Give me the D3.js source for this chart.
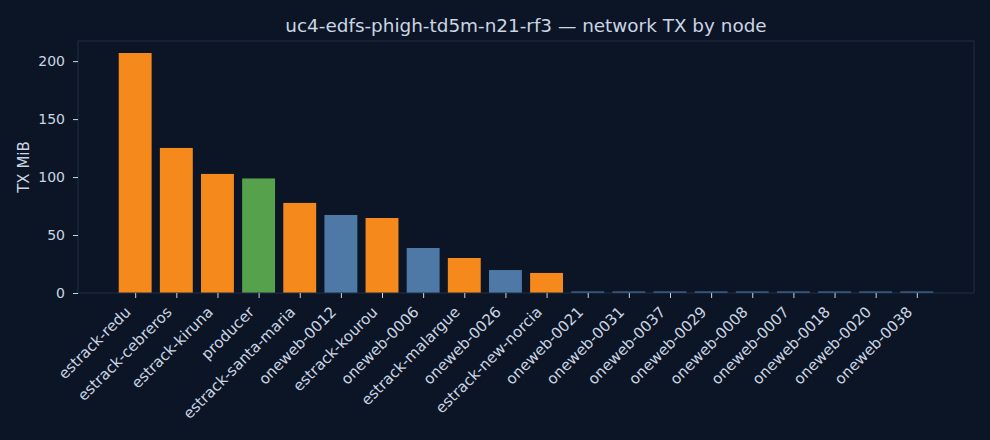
<!DOCTYPE html>
<html lang="en">
  <head>
    <meta charset="utf-8">
    <title>network TX by node</title>
    <script src="https://cdn.jsdelivr.net/npm/d3@7"></script>
    <style>
      html, body { margin: 0; padding: 0; background: #0b1526; }
      svg { display: block; }
    </style>
  </head>
  <body>
    <div id='main'></div>
  </body>

  <script type='text/javascript'>

      // node names, TX in MiB, and the node kind (drives the colour)
      const nodes = ['estrack-redu','estrack-cebreros','estrack-kiruna','producer','estrack-santa-maria',
        'oneweb-0012','estrack-kourou','oneweb-0006','estrack-malargue','oneweb-0026','estrack-new-norcia',
        'oneweb-0021','oneweb-0031','oneweb-0037','oneweb-0029','oneweb-0008','oneweb-0007',
        'oneweb-0018','oneweb-0020','oneweb-0038'];
      const txMiB = [207, 125.1, 102.7, 98.8, 77.7, 67.3, 64.7, 38.8, 30.2, 19.8, 17.3,
        1.3, 1.3, 1.3, 1.3, 1.3, 1.3, 1.3, 1.3, 1.3];
      const kinds = ['ground','ground','ground','producer','ground','sat','ground','sat','ground','sat','ground',
        'sat','sat','sat','sat','sat','sat','sat','sat','sat'];
      const yTicks = [0, 50, 100, 150, 200];

      const kindColour = { ground: '#f5891b', producer: '#55a14c', sat: '#4e79a7' };
      const textColour = '#cbd5e3';
      const frameColour = '#202e45';

      const W = 990, H = 440;
      const mLeft = 78, mRight = 974, mTop = 41, mBottom = 293;

      let svg = d3.select('#main').append('svg')
        .attr('width', W)
        .attr('height', H)
        .style('font-family', 'DejaVu Sans');

      svg.append('rect').attr('width', W).attr('height', H).attr('fill', '#0b1526');

      // matplotlib-like limits: 5% margin on both axes
      const n = nodes.length;
      const xMargin = (n - 1 + 0.8) * 0.05;
      const x = d3.scaleLinear()
        .domain([-0.4 - xMargin, n - 1 + 0.4 + xMargin])
        .range([mLeft, mRight]);
      const y = d3.scaleLinear()
        .domain([0, d3.max(txMiB) * 1.05])
        .range([mBottom, mTop]);

      // bars
      svg.selectAll('rect.bar')
        .data(txMiB)
        .enter()
        .append('rect')
        .attr('class', 'bar')
        .attr('x', (d, i) => x(i - 0.4))
        .attr('width', (d, i) => x(i + 0.4) - x(i - 0.4))
        .attr('y', d => y(d))
        .attr('height', d => y(0) - y(d))
        .attr('fill', (d, i) => kindColour[kinds[i]]);

      // frame
      svg.append('rect')
        .attr('x', mLeft).attr('y', mTop)
        .attr('width', mRight - mLeft).attr('height', mBottom - mTop)
        .attr('fill', 'none')
        .attr('stroke', frameColour)
        .attr('stroke-width', 1);

      // y axis
      const yAxis = svg.append('g')
        .attr('transform', `translate(${mLeft},0)`)
        .call(d3.axisLeft(y).tickValues(yTicks).tickSize(5).tickPadding(8));
      yAxis.select('.domain').remove();
      yAxis.selectAll('line').attr('stroke', textColour);
      yAxis.selectAll('text')
        .attr('fill', textColour)
        .style('font-size', '14px')
        .style('font-family', 'DejaVu Sans');

      // x axis with rotated labels
      const xAxis = svg.append('g')
        .attr('transform', `translate(0,${mBottom})`)
        .call(d3.axisBottom(x).tickValues(d3.range(n)).tickSize(5).tickFormat(i => nodes[i]));
      xAxis.select('.domain').remove();
      xAxis.selectAll('line').attr('stroke', textColour);
      xAxis.selectAll('text')
        .attr('fill', textColour)
        .style('font-size', '15px')
        .style('font-family', 'DejaVu Sans')
        .attr('text-anchor', 'end')
        .attr('dy', null)
        .attr('y', 0)
        .attr('transform', 'translate(-4,20) rotate(-45)');

      // y label
      svg.append('text')
        .attr('transform', `translate(28.5,${(mTop + mBottom) / 2}) rotate(-90)`)
        .attr('text-anchor', 'middle')
        .attr('fill', textColour)
        .style('font-size', '15px')
        .text('TX MiB');

      // title
      svg.append('text')
        .attr('x', (mLeft + mRight) / 2)
        .attr('y', 32)
        .attr('text-anchor', 'middle')
        .attr('fill', textColour)
        .style('font-size', '18.4px')
        .text('uc4-edfs-phigh-td5m-n21-rf3 — network TX by node');

  </script>
</html>
